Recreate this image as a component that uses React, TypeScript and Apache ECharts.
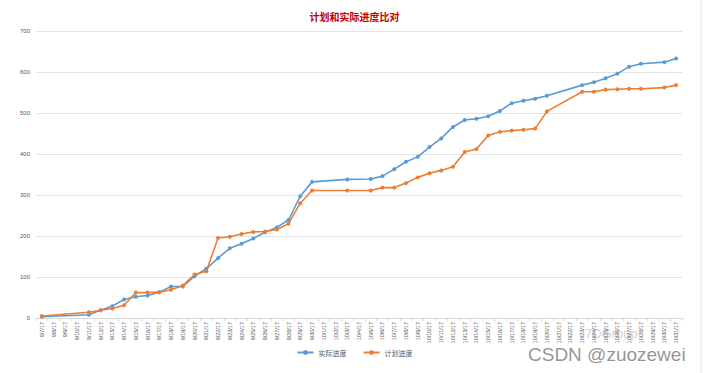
import React, { useEffect, useRef } from "react";
import * as echarts from "echarts";

const allDates: string[] = [];
for (let d = 7; d <= 30; d++) allDates.push(`9/${d}/17`);
for (let d = 1; d <= 31; d++) allDates.push(`10/${d}/17`);

const sampleDates = [
  "9/7/17", "9/11/17", "9/12/17", "9/13/17", "9/14/17", "9/15/17", "9/16/17", "9/17/17",
  "9/18/17", "9/19/17", "9/20/17", "9/21/17", "9/22/17", "9/23/17", "9/24/17", "9/25/17",
  "9/26/17", "9/27/17", "9/28/17", "9/29/17", "9/30/17", "10/3/17", "10/5/17", "10/6/17",
  "10/7/17", "10/8/17", "10/9/17", "10/10/17", "10/11/17", "10/12/17", "10/13/17", "10/14/17",
  "10/15/17", "10/16/17", "10/17/17", "10/18/17", "10/19/17", "10/20/17", "10/23/17", "10/24/17",
  "10/25/17", "10/26/17", "10/27/17", "10/28/17", "10/30/17", "10/31/17",
];

const actualValues = [
  3, 8, 19, 29, 45, 52, 55, 63,
  77, 77, 102, 120, 146, 170, 181, 194,
  209, 221, 239, 297, 332, 338, 339, 346,
  363, 381, 393, 417, 438, 466, 483, 486,
  492, 505, 524, 530, 535, 542, 568, 575,
  585, 596, 613, 620, 624, 633,
];

const planValues = [
  5, 14, 19, 23, 31, 62, 62, 63,
  69, 79, 106, 114, 195, 198, 205, 210,
  211, 216, 230, 280, 311, 311, 311, 318,
  318, 329, 343, 353, 360, 369, 405, 412,
  445, 454, 457, 459, 462, 504, 552, 552,
  557, 558, 559, 559, 562, 568,
];

function align(values: number[]): (number | null)[] {
  return allDates.map((d) => {
    const i = sampleDates.indexOf(d);
    return i >= 0 ? values[i] : null;
  });
}

export default function App() {
  const ref = useRef<HTMLDivElement>(null);
  useEffect(() => {
    if (!ref.current) return;
    const chart = echarts.init(ref.current, undefined, { renderer: "svg" });
    const font = "'Noto Sans CJK SC', 'Liberation Sans', sans-serif";
    chart.setOption({
      animation: false,
      backgroundColor: "#ffffff",
      title: {
        text: "计划和实际进度比对",
        left: "center",
        top: 6,
        textStyle: { color: "#C00000", fontSize: 10, fontWeight: "bold", fontFamily: font },
      },
      legend: {
        bottom: 12,
        left: "center",
        itemWidth: 16,
        itemHeight: 6,
        itemGap: 16,
        textStyle: { color: "#595959", fontSize: 7, fontFamily: font },
        data: ["实际进度", "计划进度"],
      },
      grid: { left: 36, right: 27, top: 31, bottom: 55 },
      xAxis: {
        type: "category",
        data: allDates,
        boundaryGap: true,
        axisLine: { lineStyle: { color: "#d9d9d9" } },
        axisTick: { show: true, interval: 0, length: 3, lineStyle: { color: "#d9d9d9" } },
        axisLabel: {
          interval: 0,
          rotate: 90,
          fontSize: 5.5,
          color: "#595959",
          margin: 4,
          fontFamily: "'Liberation Sans', sans-serif",
        },
      },
      yAxis: {
        type: "value",
        min: 0,
        max: 700,
        interval: 100,
        axisLine: { show: false },
        axisTick: { show: false },
        axisLabel: { fontSize: 6, color: "#595959", margin: 6, fontFamily: "'Liberation Sans', sans-serif" },
        splitLine: { lineStyle: { color: "#e3e3e3" } },
      },
      series: [
        {
          name: "实际进度",
          type: "line",
          data: align(actualValues),
          connectNulls: true,
          symbol: "circle",
          symbolSize: 4,
          color: "#5B9BD5",
          lineStyle: { width: 1.6, color: "#5B9BD5" },
          itemStyle: { color: "#5B9BD5" },
        },
        {
          name: "计划进度",
          type: "line",
          data: align(planValues),
          connectNulls: true,
          symbol: "circle",
          symbolSize: 4,
          color: "#ED7D31",
          lineStyle: { width: 1.6, color: "#ED7D31" },
          itemStyle: { color: "#ED7D31" },
        },
      ],
      graphic: [
        {
          type: "line",
          shape: { x1: 701, y1: 0, x2: 701, y2: 373 },
          style: { stroke: "#e6e6e6", lineWidth: 1 },
        },
        {
          type: "text",
          left: 585,
          top: 327,
          style: { text: "7DGroup", fontSize: 13, fill: "rgba(160,160,160,0.5)", fontFamily: "'Liberation Sans', sans-serif" },
        },
        {
          type: "text",
          left: 528,
          top: 345,
          style: { text: "CSDN @zuozewei", fontSize: 19, fill: "rgba(130,130,130,0.85)", fontFamily: "'Liberation Sans', sans-serif" },
        },
      ],
    });
    return () => chart.dispose();
  }, []);
  return (
    <div
      ref={ref}
      style={{ position: "absolute", left: 0, top: 0, width: 709, height: 373 }}
    />
  );
}
